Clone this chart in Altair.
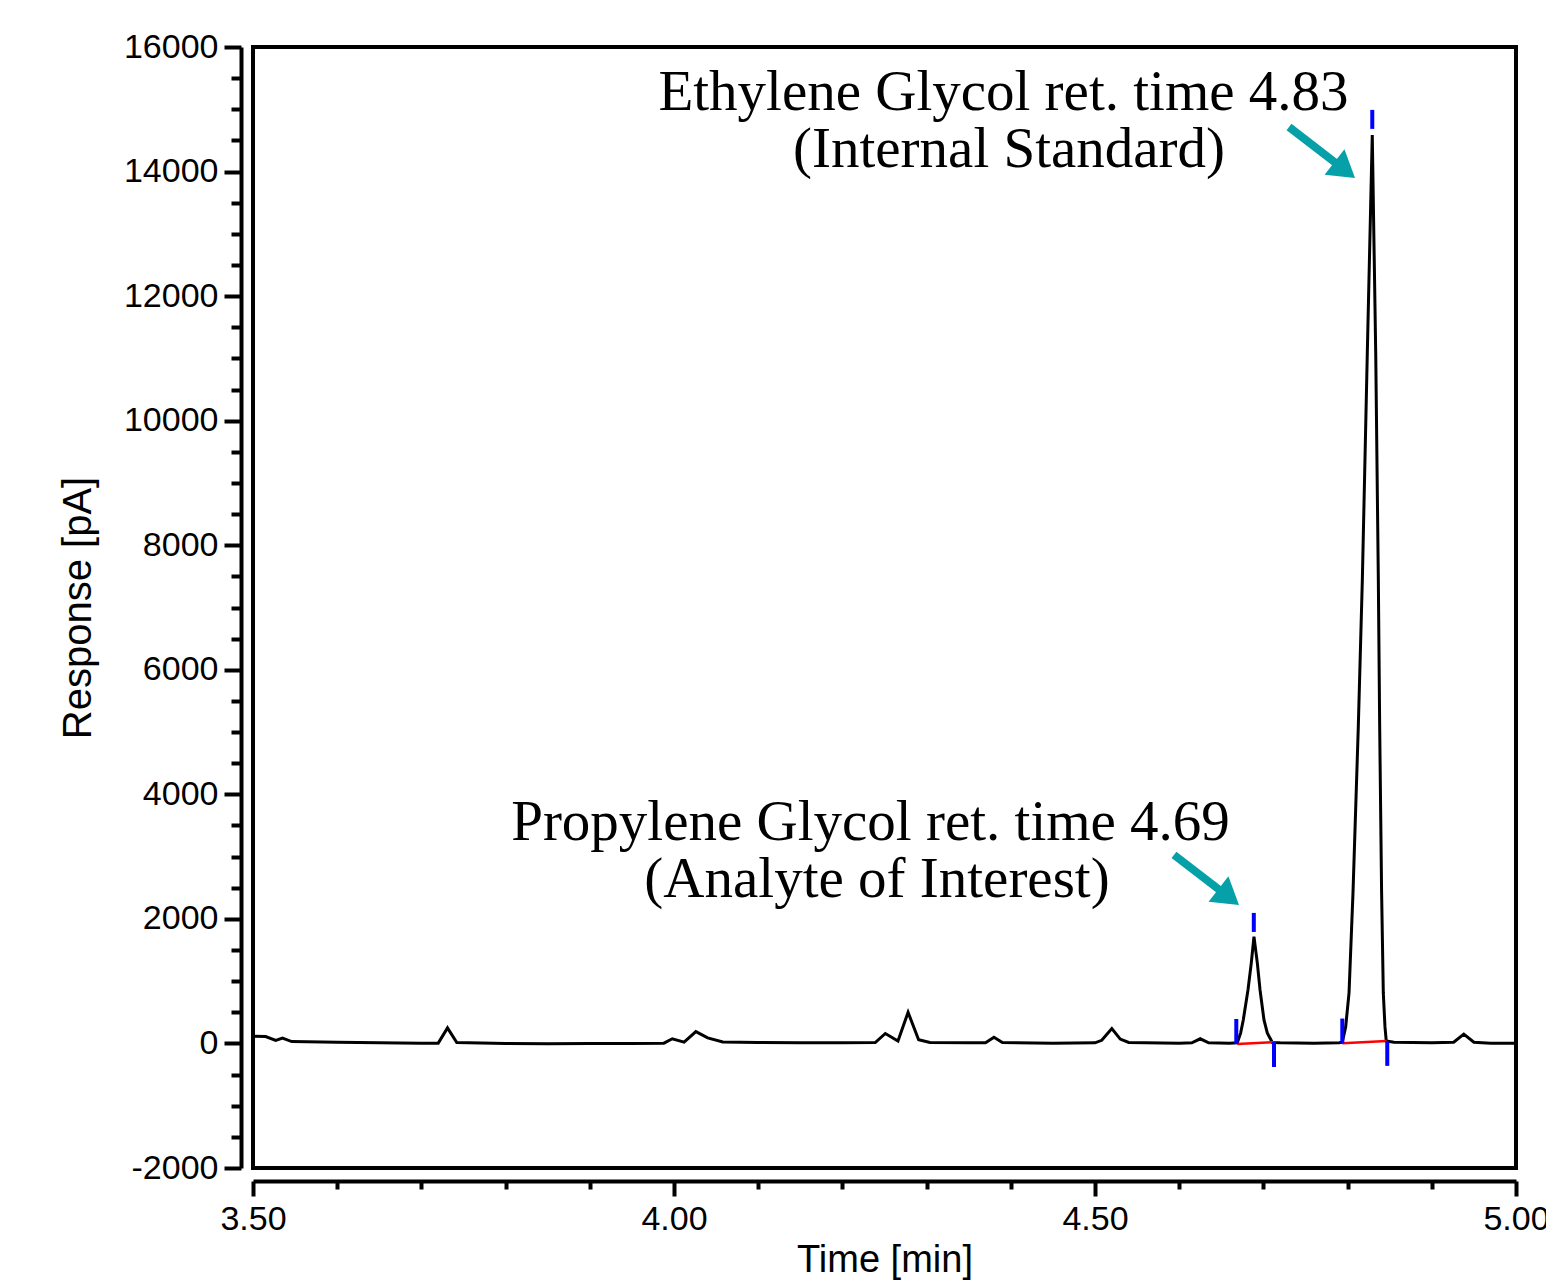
import altair as alt
import pandas as pd

# ---- chromatogram trace (time [min], response [pA]) ----
times = [3.500, 3.515, 3.527, 3.535, 3.546, 3.600, 3.650, 3.700, 3.720, 3.731,
         3.742, 3.800, 3.850, 3.900, 3.950, 3.988, 3.998, 4.012, 4.026, 4.040,
         4.058, 4.100, 4.150, 4.200, 4.239, 4.251, 4.266, 4.278, 4.2905, 4.304,
         4.350, 4.370, 4.380, 4.390, 4.450, 4.500, 4.508, 4.520, 4.530, 4.540,
         4.600, 4.615, 4.625, 4.635, 4.660, 4.669, 4.673, 4.6761, 4.6817, 4.6856,
         4.6888, 4.6928, 4.6960, 4.7007, 4.7046, 4.7106, 4.720, 4.760, 4.790, 4.7937,
         4.7977, 4.8017, 4.8064, 4.8127, 4.8175, 4.8234, 4.8293, 4.8334, 4.8365, 4.8381,
         4.8404, 4.8424, 4.8444, 4.8459, 4.855, 4.900, 4.926, 4.938, 4.950, 4.970,
         5.000]
responses = [115, 110, 50, 85, 30, 20, 10, 5, 5, 250,
             15, 0, -5, 0, 0, 5, 75, 20, 190, 90,
             25, 15, 10, 10, 15, 160, 40, 500, 60, 15,
             10, 10, 100, 15, 5, 10, 50, 240, 70, 15,
             5, 10, 75, 10, 5, 10, 170, 377, 860, 1290,
             1715, 1290, 860, 377, 170, 15, 10, 5, 10, 20,
             265, 811, 2417, 5082, 7442, 11087, 14587, 11087, 7442, 5082,
             2417, 811, 265, 40, 20, 10, 20, 150, 20, 5,
             5]
assert len(times) == len(responses)

# ---- integration markers (blue) ----
marker_t = [4.6678, 4.6886, 4.7126, 4.7937, 4.8293, 4.8471]
marker_v1 = [393, 2096, 24, 400, 14990, 40]
marker_v2 = [-8, 1790, -378, 0, 14685, -360]

# ---- integration baselines (red) ----
base_t1 = [4.6690, 4.7937]
base_t2 = [4.7120, 4.8465]
base_v1 = [-8, 3]
base_v2 = [20, 40]

# ---- annotations ----
text_lines = ["Ethylene Glycol ret. time 4.83", "(Internal Standard)",
              "Propylene Glycol ret. time 4.69", "(Analyte of Interest)"]
text_t = [4.3913, 4.3979, 4.2334, 4.2411]
text_v = [14989, 14073, 3267, 2352]

arrow_tail_t = [4.7304, 4.5938]
arrow_tail_v = [14716, 3027]
arrow_tip_t = [4.8088, 4.6710]
arrow_tip_v = [13897, 2224]

# ---- axis ticks ----
x_ticks = [3.5, 3.6, 3.7, 3.8, 3.9, 4.0, 4.1, 4.2, 4.3, 4.4, 4.5, 4.6, 4.7, 4.8, 4.9, 5.0]
y_ticks = list(range(-2000, 16001, 500))

trace = pd.DataFrame({"t": times, "v": responses})
markers = pd.DataFrame({"t": marker_t, "v": marker_v1, "v2": marker_v2})
baselines = pd.DataFrame({"t": base_t1, "t2": base_t2, "v": base_v1, "v2": base_v2})
texts = pd.DataFrame({"t": text_t, "v": text_v, "label": text_lines})
frac = 0.74
shafts = pd.DataFrame({
    "t": arrow_tail_t, "v": arrow_tail_v,
    "t2": [a + (b - a) * frac for a, b in zip(arrow_tail_t, arrow_tip_t)],
    "v2": [a + (b - a) * frac for a, b in zip(arrow_tail_v, arrow_tip_v)],
})
heads = pd.DataFrame({"t": arrow_tip_t, "v": arrow_tip_v})

FONT = "Liberation Sans"
TEAL = "#06a0a8"

x_major = "round(datum.value*100) % 50 === 0"
y_major = "datum.value % 2000 === 0"

x_axis = alt.Axis(
    values=x_ticks, offset=13, grid=False,
    labelExpr=x_major + " ? format(datum.value, '.2f') : ''",
    tickSize={"condition": {"test": x_major, "value": 15}, "value": 8},
    tickWidth=4, tickColor="black", domainWidth=4, domainColor="black",
    labelFont=FONT, labelFontSize=34, labelColor="black", labelPadding=6,
    labelOverlap=False, labelFlush=False,
    titleFont=FONT, titleFontSize=38, titleFontWeight="normal", titleColor="black", titlePadding=5,
)
y_axis = alt.Axis(
    values=y_ticks, offset=12, grid=False,
    labelExpr=y_major + " ? '' + datum.value : ''",
    tickSize={"condition": {"test": y_major, "value": 17}, "value": 10},
    tickWidth=4, tickColor="black", domainWidth=4, domainColor="black",
    labelFont=FONT, labelFontSize=34, labelColor="black", labelPadding=6,
    labelOverlap=False, labelFlush=False,
    titleFont=FONT, titleFontSize=40, titleFontWeight="normal", titleColor="black", titlePadding=25,
)

xs = alt.Scale(domain=[3.5, 5.0], nice=False, zero=False)
ys = alt.Scale(domain=[-2000, 16000], nice=False, zero=False)
X = alt.X("t:Q", scale=xs, axis=x_axis, title="Time [min]")
Y = alt.Y("v:Q", scale=ys, axis=y_axis, title="Response [pA]")

line = alt.Chart(trace).mark_line(color="black", strokeWidth=3).encode(x=X, y=Y, order="t:Q")
red = alt.Chart(baselines).mark_rule(color="#ff0000", strokeWidth=2.5).encode(x=X, x2="t2", y=Y, y2="v2")
blue = alt.Chart(markers).mark_rule(color="#0000ff", strokeWidth=4).encode(x=X, y=Y, y2="v2")
shaft = alt.Chart(shafts).mark_rule(color=TEAL, strokeWidth=8).encode(x=X, x2="t2", y=Y, y2="v2")
head = alt.Chart(heads).mark_point(
    shape="M0,0L-1,-0.62L-1,0.62Z", filled=True, color=TEAL, opacity=1,
    size=2704, angle=38, strokeWidth=0,
).encode(x=X, y=Y)
text = alt.Chart(texts).mark_text(
    font="Liberation Serif", fontSize=57, align="center", baseline="alphabetic", color="black",
).encode(x=X, y=Y, text="label:N")

chart = alt.layer(line, red, blue, shaft, head, text).properties(
    width=1263, height=1121,
    padding={"left": 245, "top": 39, "right": 30, "bottom": 112},
    autosize="none",
    background="white",
).configure_view(stroke="black", strokeWidth=4)

chart.save("out.html", embed_options={"renderer": "svg", "actions": False})
